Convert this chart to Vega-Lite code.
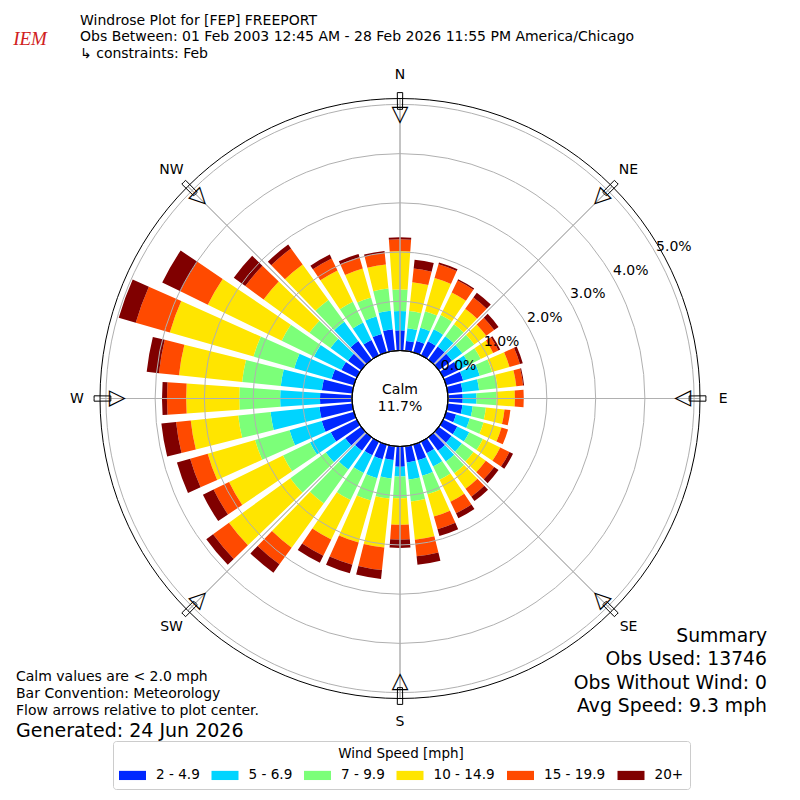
{
  "$schema": "https://vega.github.io/schema/vega-lite/v6.json",
  "width": 800,
  "height": 657,
  "autosize": "none",
  "padding": {"top": 70, "left": 0, "right": 0, "bottom": 73},
  "background": "white",
  "config": {"view": {"stroke": null}, "font": "DejaVu Sans"},
  "datasets": {
    "rose": [
      {"dir":0,"speed":"2 - 4.9","pct":0.41},{"dir":0,"speed":"5 - 6.9","pct":0.39},{"dir":0,"speed":"7 - 9.9","pct":0.44},{"dir":0,"speed":"10 - 14.9","pct":0.78},{"dir":0,"speed":"15 - 19.9","pct":0.24},{"dir":0,"speed":"20+","pct":0.04},
      {"dir":10,"speed":"2 - 4.9","pct":0.20},{"dir":10,"speed":"5 - 6.9","pct":0.26},{"dir":10,"speed":"7 - 9.9","pct":0.35},{"dir":10,"speed":"10 - 14.9","pct":0.59},{"dir":10,"speed":"15 - 19.9","pct":0.28},{"dir":10,"speed":"20+","pct":0.18},
      {"dir":20,"speed":"2 - 4.9","pct":0.24},{"dir":20,"speed":"5 - 6.9","pct":0.28},{"dir":20,"speed":"7 - 9.9","pct":0.35},{"dir":20,"speed":"10 - 14.9","pct":0.70},{"dir":20,"speed":"15 - 19.9","pct":0.29},{"dir":20,"speed":"20+","pct":0.04},
      {"dir":30,"speed":"2 - 4.9","pct":0.32},{"dir":30,"speed":"5 - 6.9","pct":0.27},{"dir":30,"speed":"7 - 9.9","pct":0.32},{"dir":30,"speed":"10 - 14.9","pct":0.51},{"dir":30,"speed":"15 - 19.9","pct":0.27},{"dir":30,"speed":"20+","pct":0.03},
      {"dir":40,"speed":"2 - 4.9","pct":0.33},{"dir":40,"speed":"5 - 6.9","pct":0.26},{"dir":40,"speed":"7 - 9.9","pct":0.30},{"dir":40,"speed":"10 - 14.9","pct":0.39},{"dir":40,"speed":"15 - 19.9","pct":0.28},{"dir":40,"speed":"20+","pct":0.12},
      {"dir":50,"speed":"2 - 4.9","pct":0.33},{"dir":50,"speed":"5 - 6.9","pct":0.26},{"dir":50,"speed":"7 - 9.9","pct":0.30},{"dir":50,"speed":"10 - 14.9","pct":0.30},{"dir":50,"speed":"15 - 19.9","pct":0.20},{"dir":50,"speed":"20+","pct":0.11},
      {"dir":60,"speed":"2 - 4.9","pct":0.35},{"dir":60,"speed":"5 - 6.9","pct":0.24},{"dir":60,"speed":"7 - 9.9","pct":0.26},{"dir":60,"speed":"10 - 14.9","pct":0.28},{"dir":60,"speed":"15 - 19.9","pct":0.12},{"dir":60,"speed":"20+","pct":0.04},
      {"dir":70,"speed":"2 - 4.9","pct":0.36},{"dir":70,"speed":"5 - 6.9","pct":0.35},{"dir":70,"speed":"7 - 9.9","pct":0.26},{"dir":70,"speed":"10 - 14.9","pct":0.37},{"dir":70,"speed":"15 - 19.9","pct":0.22},{"dir":70,"speed":"20+","pct":0.06},
      {"dir":80,"speed":"2 - 4.9","pct":0.30},{"dir":80,"speed":"5 - 6.9","pct":0.34},{"dir":80,"speed":"7 - 9.9","pct":0.38},{"dir":80,"speed":"10 - 14.9","pct":0.38},{"dir":80,"speed":"15 - 19.9","pct":0.14},{"dir":80,"speed":"20+","pct":0.02},
      {"dir":90,"speed":"2 - 4.9","pct":0.30},{"dir":90,"speed":"5 - 6.9","pct":0.28},{"dir":90,"speed":"7 - 9.9","pct":0.41},{"dir":90,"speed":"10 - 14.9","pct":0.37},{"dir":90,"speed":"15 - 19.9","pct":0.18},{"dir":90,"speed":"20+","pct":0.0},
      {"dir":100,"speed":"2 - 4.9","pct":0.30},{"dir":100,"speed":"5 - 6.9","pct":0.21},{"dir":100,"speed":"7 - 9.9","pct":0.27},{"dir":100,"speed":"10 - 14.9","pct":0.38},{"dir":100,"speed":"15 - 19.9","pct":0.12},{"dir":100,"speed":"20+","pct":0.0},
      {"dir":110,"speed":"2 - 4.9","pct":0.21},{"dir":110,"speed":"5 - 6.9","pct":0.29},{"dir":110,"speed":"7 - 9.9","pct":0.29},{"dir":110,"speed":"10 - 14.9","pct":0.38},{"dir":110,"speed":"15 - 19.9","pct":0.14},{"dir":110,"speed":"20+","pct":0.0},
      {"dir":120,"speed":"2 - 4.9","pct":0.32},{"dir":120,"speed":"5 - 6.9","pct":0.27},{"dir":120,"speed":"7 - 9.9","pct":0.31},{"dir":120,"speed":"10 - 14.9","pct":0.39},{"dir":120,"speed":"15 - 19.9","pct":0.21},{"dir":120,"speed":"20+","pct":0.08},
      {"dir":130,"speed":"2 - 4.9","pct":0.32},{"dir":130,"speed":"5 - 6.9","pct":0.26},{"dir":130,"speed":"7 - 9.9","pct":0.29},{"dir":130,"speed":"10 - 14.9","pct":0.31},{"dir":130,"speed":"15 - 19.9","pct":0.21},{"dir":130,"speed":"20+","pct":0.11},
      {"dir":140,"speed":"2 - 4.9","pct":0.34},{"dir":140,"speed":"5 - 6.9","pct":0.27},{"dir":140,"speed":"7 - 9.9","pct":0.29},{"dir":140,"speed":"10 - 14.9","pct":0.39},{"dir":140,"speed":"15 - 19.9","pct":0.20},{"dir":140,"speed":"20+","pct":0.11},
      {"dir":150,"speed":"2 - 4.9","pct":0.26},{"dir":150,"speed":"5 - 6.9","pct":0.30},{"dir":150,"speed":"7 - 9.9","pct":0.30},{"dir":150,"speed":"10 - 14.9","pct":0.50},{"dir":150,"speed":"15 - 19.9","pct":0.26},{"dir":150,"speed":"20+","pct":0.11},
      {"dir":160,"speed":"2 - 4.9","pct":0.33},{"dir":160,"speed":"5 - 6.9","pct":0.33},{"dir":160,"speed":"7 - 9.9","pct":0.39},{"dir":160,"speed":"10 - 14.9","pct":0.47},{"dir":160,"speed":"15 - 19.9","pct":0.27},{"dir":160,"speed":"20+","pct":0.14},
      {"dir":170,"speed":"2 - 4.9","pct":0.33},{"dir":170,"speed":"5 - 6.9","pct":0.35},{"dir":170,"speed":"7 - 9.9","pct":0.45},{"dir":170,"speed":"10 - 14.9","pct":0.78},{"dir":170,"speed":"15 - 19.9","pct":0.34},{"dir":170,"speed":"20+","pct":0.17},
      {"dir":180,"speed":"2 - 4.9","pct":0.41},{"dir":180,"speed":"5 - 6.9","pct":0.20},{"dir":180,"speed":"7 - 9.9","pct":0.44},{"dir":180,"speed":"10 - 14.9","pct":0.54},{"dir":180,"speed":"15 - 19.9","pct":0.30},{"dir":180,"speed":"20+","pct":0.17},
      {"dir":190,"speed":"2 - 4.9","pct":0.28},{"dir":190,"speed":"5 - 6.9","pct":0.38},{"dir":190,"speed":"7 - 9.9","pct":0.41},{"dir":190,"speed":"10 - 14.9","pct":1.00},{"dir":190,"speed":"15 - 19.9","pct":0.46},{"dir":190,"speed":"20+","pct":0.18},
      {"dir":200,"speed":"2 - 4.9","pct":0.31},{"dir":200,"speed":"5 - 6.9","pct":0.40},{"dir":200,"speed":"7 - 9.9","pct":0.47},{"dir":200,"speed":"10 - 14.9","pct":0.89},{"dir":200,"speed":"15 - 19.9","pct":0.47},{"dir":200,"speed":"20+","pct":0.18},
      {"dir":210,"speed":"2 - 4.9","pct":0.31},{"dir":210,"speed":"5 - 6.9","pct":0.40},{"dir":210,"speed":"7 - 9.9","pct":0.61},{"dir":210,"speed":"10 - 14.9","pct":0.89},{"dir":210,"speed":"15 - 19.9","pct":0.37},{"dir":210,"speed":"20+","pct":0.16},
      {"dir":220,"speed":"2 - 4.9","pct":0.34},{"dir":220,"speed":"5 - 6.9","pct":0.47},{"dir":220,"speed":"7 - 9.9","pct":0.85},{"dir":220,"speed":"10 - 14.9","pct":1.11},{"dir":220,"speed":"15 - 19.9","pct":0.42},{"dir":220,"speed":"20+","pct":0.21},
      {"dir":230,"speed":"2 - 4.9","pct":0.40},{"dir":230,"speed":"5 - 6.9","pct":0.49},{"dir":230,"speed":"7 - 9.9","pct":0.89},{"dir":230,"speed":"10 - 14.9","pct":1.54},{"dir":230,"speed":"15 - 19.9","pct":0.40},{"dir":230,"speed":"20+","pct":0.17},
      {"dir":240,"speed":"2 - 4.9","pct":0.59},{"dir":240,"speed":"5 - 6.9","pct":0.47},{"dir":240,"speed":"7 - 9.9","pct":0.61},{"dir":240,"speed":"10 - 14.9","pct":1.22},{"dir":240,"speed":"15 - 19.9","pct":0.35},{"dir":240,"speed":"20+","pct":0.24},
      {"dir":250,"speed":"2 - 4.9","pct":0.68},{"dir":250,"speed":"5 - 6.9","pct":0.68},{"dir":250,"speed":"7 - 9.9","pct":0.73},{"dir":250,"speed":"10 - 14.9","pct":1.00},{"dir":250,"speed":"15 - 19.9","pct":0.37},{"dir":250,"speed":"20+","pct":0.28},
      {"dir":260,"speed":"2 - 4.9","pct":0.67},{"dir":260,"speed":"5 - 6.9","pct":1.00},{"dir":260,"speed":"7 - 9.9","pct":0.66},{"dir":260,"speed":"10 - 14.9","pct":0.97},{"dir":260,"speed":"15 - 19.9","pct":0.30},{"dir":260,"speed":"20+","pct":0.30},
      {"dir":270,"speed":"2 - 4.9","pct":0.65},{"dir":270,"speed":"5 - 6.9","pct":0.81},{"dir":270,"speed":"7 - 9.9","pct":0.83},{"dir":270,"speed":"10 - 14.9","pct":1.08},{"dir":270,"speed":"15 - 19.9","pct":0.39},{"dir":270,"speed":"20+","pct":0.10},
      {"dir":280,"speed":"2 - 4.9","pct":0.62},{"dir":280,"speed":"5 - 6.9","pct":0.84},{"dir":280,"speed":"7 - 9.9","pct":0.79},{"dir":280,"speed":"10 - 14.9","pct":1.29},{"dir":280,"speed":"15 - 19.9","pct":0.41},{"dir":280,"speed":"20+","pct":0.25},
      {"dir":290,"speed":"2 - 4.9","pct":0.47},{"dir":290,"speed":"5 - 6.9","pct":0.79},{"dir":290,"speed":"7 - 9.9","pct":0.86},{"dir":290,"speed":"10 - 14.9","pct":1.77},{"dir":290,"speed":"15 - 19.9","pct":0.72},{"dir":290,"speed":"20+","pct":0.36},
      {"dir":300,"speed":"2 - 4.9","pct":0.35},{"dir":300,"speed":"5 - 6.9","pct":0.62},{"dir":300,"speed":"7 - 9.9","pct":0.73},{"dir":300,"speed":"10 - 14.9","pct":1.67},{"dir":300,"speed":"15 - 19.9","pct":0.62},{"dir":300,"speed":"20+","pct":0.41},
      {"dir":310,"speed":"2 - 4.9","pct":0.33},{"dir":310,"speed":"5 - 6.9","pct":0.44},{"dir":310,"speed":"7 - 9.9","pct":0.53},{"dir":310,"speed":"10 - 14.9","pct":1.15},{"dir":310,"speed":"15 - 19.9","pct":0.46},{"dir":310,"speed":"20+","pct":0.29},
      {"dir":320,"speed":"2 - 4.9","pct":0.47},{"dir":320,"speed":"5 - 6.9","pct":0.48},{"dir":320,"speed":"7 - 9.9","pct":0.55},{"dir":320,"speed":"10 - 14.9","pct":0.89},{"dir":320,"speed":"15 - 19.9","pct":0.40},{"dir":320,"speed":"20+","pct":0.10},
      {"dir":330,"speed":"2 - 4.9","pct":0.35},{"dir":330,"speed":"5 - 6.9","pct":0.39},{"dir":330,"speed":"7 - 9.9","pct":0.47},{"dir":330,"speed":"10 - 14.9","pct":0.71},{"dir":330,"speed":"15 - 19.9","pct":0.27},{"dir":330,"speed":"20+","pct":0.09},
      {"dir":340,"speed":"2 - 4.9","pct":0.39},{"dir":340,"speed":"5 - 6.9","pct":0.37},{"dir":340,"speed":"7 - 9.9","pct":0.40},{"dir":340,"speed":"10 - 14.9","pct":0.61},{"dir":340,"speed":"15 - 19.9","pct":0.24},{"dir":340,"speed":"20+","pct":0.07},
      {"dir":350,"speed":"2 - 4.9","pct":0.44},{"dir":350,"speed":"5 - 6.9","pct":0.38},{"dir":350,"speed":"7 - 9.9","pct":0.45},{"dir":350,"speed":"10 - 14.9","pct":0.49},{"dir":350,"speed":"15 - 19.9","pct":0.24},{"dir":350,"speed":"20+","pct":0.04}
    ],
    "rings": [
      {"ring":0,"lab":"0.0%"},{"ring":1,"lab":"1.0%"},{"ring":2,"lab":"2.0%"},{"ring":3,"lab":"3.0%"},{"ring":4,"lab":"4.0%"},{"ring":5,"lab":"5.0%"}
    ],
    "compass": [
      {"d":0,"lab":"N"},{"d":45,"lab":"NE"},{"d":90,"lab":"E"},{"d":135,"lab":"SE"},
      {"d":180,"lab":"S"},{"d":225,"lab":"SW"},{"d":270,"lab":"W"},{"d":315,"lab":"NW"}
    ],
    "one": [{}]
  },
  "layer": [
    {
      "data": {"name": "rose"},
      "transform": [{"stack": "pct", "groupby": ["dir"], "as": ["r0", "r1"]}],
      "mark": {"type": "arc", "thetaOffset": -0.0698, "theta2Offset": 0.0698},
      "encoding": {
        "theta": {"field": "dir", "type": "quantitative", "stack": null,
          "scale": {"type": "linear", "domain": [0, 360], "range": [0, 6.283185307179586]}},
        "theta2": {"field": "dir"},
        "radius": {"field": "r1", "type": "quantitative", "stack": null,
          "scale": {"type": "linear", "domain": [0, 5.12], "range": [48, 300]}},
        "radius2": {"field": "r0"},
        "color": {
          "field": "speed", "type": "nominal",
          "scale": {
            "domain": ["2 - 4.9", "5 - 6.9", "7 - 9.9", "10 - 14.9", "15 - 19.9", "20+"],
            "range": ["#0028ff", "#00d4ff", "#7cff79", "#ffe500", "#ff4a00", "#800000"]
          },
          "legend": {
            "title": "Wind Speed [mph]",
            "orient": "none",
            "legendX": 113,
            "legendY": 671,
            "direction": "horizontal",
            "columns": 6,
            "titleAnchor": "middle",
            "titleFont": "DejaVu Sans",
            "titleFontSize": 13.5,
            "titleFontWeight": "normal",
            "titleColor": "black",
            "titlePadding": 1,
            "labelFont": "DejaVu Sans",
            "labelFontSize": 13.6,
            "labelColor": "black",
            "labelOffset": 10,
            "symbolType": "M-1,-0.34H1V0.34H-1Z",
            "symbolSize": 729,
            "symbolStrokeWidth": 0,
            "symbolOpacity": 1,
            "columnPadding": 11.5,
            "padding": 6,
            "strokeColor": "#cccccc",
            "fillColor": "white",
            "cornerRadius": 3
          }
        }
      }
    },
    {
      "data": {"name": "rings"},
      "transform": [{"filter": "datum.ring > 0"}],
      "mark": {"type": "arc", "fillOpacity": 0, "stroke": "#b0b0b0", "strokeWidth": 1},
      "encoding": {
        "theta": {"datum": 0},
        "theta2": {"datum": 360},
        "radius": {"field": "ring", "type": "quantitative", "stack": null}
      }
    },
    {
      "data": {"name": "compass"},
      "mark": {"type": "arc", "fillOpacity": 0, "stroke": "#b0b0b0", "strokeWidth": 1},
      "encoding": {
        "theta": {"field": "d", "type": "quantitative", "stack": null},
        "theta2": {"field": "d"},
        "radius": {"datum": 5.12},
        "radius2": {"datum": 0}
      }
    },
    {
      "data": {"name": "one"},
      "mark": {"type": "arc", "fillOpacity": 0, "stroke": "black", "strokeWidth": 1},
      "encoding": {
        "theta": {"datum": 0},
        "theta2": {"datum": 360},
        "radius": {"datum": 5.12}
      }
    },
    {
      "data": {"name": "one"},
      "mark": {"type": "arc", "fill": "white", "stroke": "black", "strokeWidth": 1.2},
      "encoding": {
        "theta": {"datum": 0},
        "theta2": {"datum": 360},
        "radius": {"datum": 0}
      }
    },
    {
      "data": {"name": "compass"},
      "mark": {"type": "arc", "fillOpacity": 0, "stroke": "black", "strokeWidth": 1, "thetaOffset": -0.0088, "theta2Offset": 0.0088},
      "encoding": {
        "theta": {"field": "d", "type": "quantitative", "stack": null},
        "theta2": {"field": "d"},
        "radius": {"datum": 5.24},
        "radius2": {"datum": 4.9}
      }
    },
    {
      "data": {"name": "compass"},
      "mark": {"type": "text", "text": "▽", "fontSize": 22, "font": "DejaVu Sans", "color": "black", "align": "center", "baseline": "middle"},
      "encoding": {
        "theta": {"field": "d", "type": "quantitative", "stack": null},
        "radius": {"datum": 4.8},
        "angle": {"field": "d", "type": "quantitative", "scale": null}
      }
    },
    {
      "data": {"name": "rings"},
      "mark": {"type": "text", "fontSize": 14, "font": "DejaVu Sans", "color": "black", "align": "center", "baseline": "middle", "dx": 16.6, "dy": -9.2},
      "encoding": {
        "theta": {"datum": 61},
        "radius": {"field": "ring", "type": "quantitative", "stack": null},
        "text": {"field": "lab"}
      }
    },
    {
      "data": {"name": "compass"},
      "mark": {"type": "text", "fontSize": 14, "font": "DejaVu Sans", "color": "black", "align": "center", "baseline": "middle"},
      "encoding": {
        "theta": {"field": "d", "type": "quantitative", "stack": null},
        "radius": {"datum": 5.59},
        "text": {"field": "lab"}
      }
    },
    {
      "data": {"name": "one"},
      "mark": {"type": "text", "text": ["Calm", "11.7%"], "fontSize": 14, "font": "DejaVu Sans", "color": "black", "align": "center", "baseline": "middle", "lineHeight": 17, "dy": -8.5},
      "encoding": {"theta": {"value": 0}, "radius": {"value": 0}}
    },
    {
      "data": {"name": "one"},
      "mark": {"type": "text", "text": ["Windrose Plot for [FEP] FREEPORT", "Obs Between: 01 Feb 2003 12:45 AM - 28 Feb 2026 11:55 PM America/Chicago", " ↳ constraints: Feb"], "x": 80, "y": -49.5, "fontSize": 14, "font": "DejaVu Sans", "color": "black", "align": "left", "baseline": "middle", "lineHeight": 16.8}
    },
    {
      "data": {"name": "one"},
      "mark": {"type": "text", "text": ["Calm values are < 2.0 mph", "Bar Convention: Meteorology", "Flow arrows relative to plot center."], "x": 16, "y": 606.5, "fontSize": 14, "font": "DejaVu Sans", "color": "black", "align": "left", "baseline": "middle", "lineHeight": 17}
    },
    {
      "data": {"name": "one"},
      "mark": {"type": "text", "text": "Generated: 24 Jun 2026", "x": 16, "y": 660.5, "fontSize": 19, "font": "DejaVu Sans", "color": "black", "align": "left", "baseline": "middle"}
    },
    {
      "data": {"name": "one"},
      "mark": {"type": "text", "text": ["Summary", "Obs Used: 13746", "Obs Without Wind: 0", "Avg Speed: 9.3 mph"], "x": 767, "y": 566, "fontSize": 18.8, "font": "DejaVu Sans", "color": "black", "align": "right", "baseline": "middle", "lineHeight": 23.3}
    },
    {
      "data": {"name": "one"},
      "mark": {"type": "text", "text": "IEM", "x": 30, "y": -31.5, "fontSize": 19, "font": "Liberation Serif", "fontStyle": "italic", "color": "#d02020", "align": "center", "baseline": "middle"}
    }
  ]
}
